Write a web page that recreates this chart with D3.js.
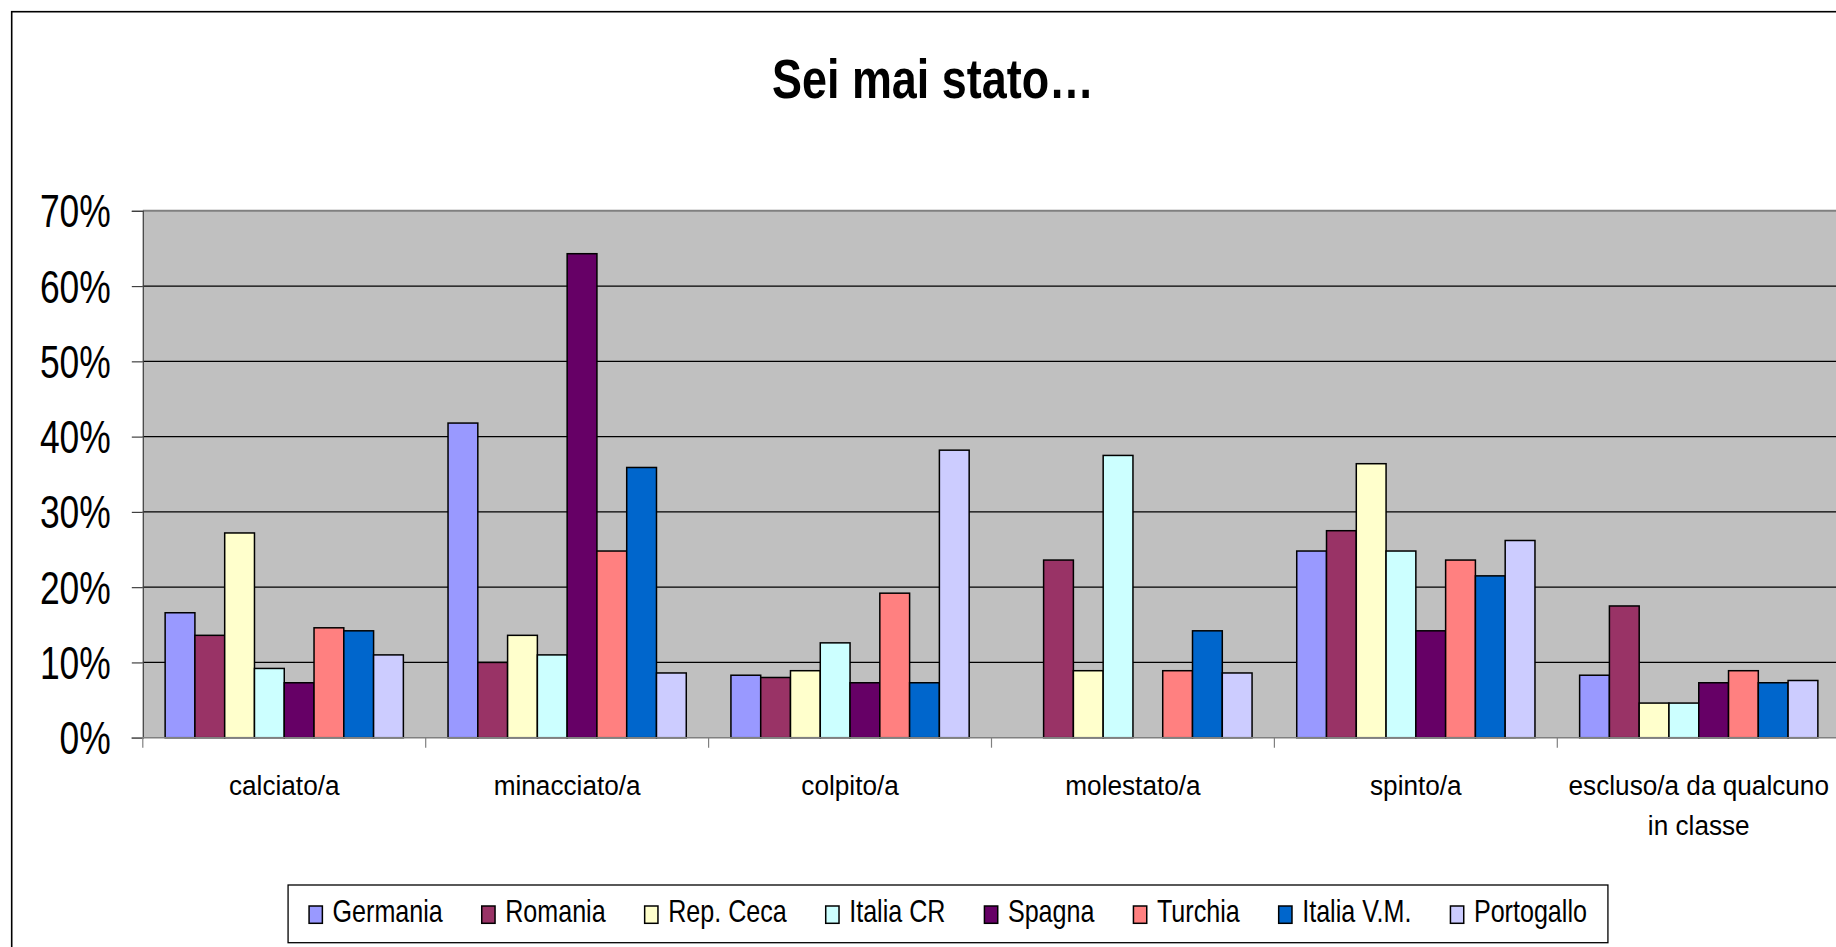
<!DOCTYPE html>
<html>
<head>
<meta charset="utf-8">
<script src="https://cdn.jsdelivr.net/npm/d3@7"></script>
<style>
  html, body { margin: 0; padding: 0; background: #fff; }
  svg { display: block; }
  text { font-family: "Liberation Sans", Arial, sans-serif; fill: #000; }
</style>
</head>
<body>
<svg id="chart" width="1836" height="947"></svg>
<script>
// ---- data ----
const title = "Sei mai stato…";
const categories = ["calciato/a", "minacciato/a", "colpito/a", "molestato/a", "spinto/a", "escluso/a da qualcuno in classe"];
const seriesNames = ["Germania", "Romania", "Rep. Ceca", "Italia CR", "Spagna", "Turchia", "Italia V.M.", "Portogallo"];
const seriesColors = ["#9999FF", "#993366", "#FFFFCC", "#CCFFFF", "#660066", "#FF8080", "#0066CC", "#CCCCFF"];
const germania   = [16.6, 41.8,  8.3, null, 24.8,  8.3];
const romania    = [13.6, 10.0,  8.0, 23.6, 27.5, 17.5];
const repCeca    = [27.2, 13.6,  8.9,  8.9, 36.4,  4.6];
const italiaCR   = [ 9.2, 11.0, 12.6, 37.5, 24.8,  4.6];
const spagna     = [ 7.3, 64.3,  7.3, null, 14.2,  7.3];
const turchia    = [14.6, 24.8, 19.2,  8.9, 23.6,  8.9];
const italiaVM   = [14.2, 35.9,  7.3, 14.2, 21.5,  7.3];
const portogallo = [11.0,  8.6, 38.2,  8.6, 26.2,  7.6];
const yTickValues = [0, 10, 20, 30, 40, 50, 60, 70];
const yTickLabels = ["0%", "10%", "20%", "30%", "40%", "50%", "60%", "70%"];

const seriesValues = [germania, romania, repCeca, italiaCR, spagna, turchia, italiaVM, portogallo];

// ---- layout ----
const svg = d3.select("#chart");
const plotLeft = 142.8, plotTop = 210.8, plotBottom = 737.7, catStep = 282.9;
const plotRight = plotLeft + catStep * categories.length;

// chart outer border
svg.append("rect").attr("x", 11.7).attr("y", 11.7).attr("width", 1900).attr("height", 1000)
  .attr("fill", "#fff").attr("stroke", "#000").attr("stroke-width", 1.6);

// title (condensed to the reference width)
const titleText = svg.append("text")
  .attr("text-anchor", "middle")
  .attr("font-size", 56).attr("font-weight", "bold")
  .text(title);
const titleScale = 322 / titleText.node().getComputedTextLength();
titleText.attr("transform", `translate(933,98) scale(${titleScale},1)`);

const x = d3.scaleBand().domain(categories).range([plotLeft, plotRight]).paddingInner(0).paddingOuter(0);
const xs = d3.scaleBand().domain(seriesNames).range([0, x.bandwidth()]).paddingInner(0).paddingOuter(0.75);
const y = d3.scaleLinear().domain([0, 70]).range([plotBottom, plotTop]);
const color = d3.scaleOrdinal().domain(seriesNames).range(seriesColors);

// plot background
svg.append("rect").attr("x", plotLeft).attr("y", y(70)).attr("width", plotRight - plotLeft)
  .attr("height", y(0) - y(70)).attr("fill", "#C0C0C0");

// gridlines
svg.append("g").selectAll("line").data(yTickValues.filter(v => v > 0 && v < 70)).join("line")
  .attr("x1", plotLeft).attr("x2", plotRight)
  .attr("y1", d => y(d)).attr("y2", d => y(d))
  .attr("stroke", "#000").attr("stroke-width", 1.2);
// top border of plot
svg.append("line").attr("x1", plotLeft).attr("x2", plotRight).attr("y1", y(70)).attr("y2", y(70))
  .attr("stroke", "#808080").attr("stroke-width", 2);

// bars
const groups = svg.append("g").selectAll("g").data(categories).join("g")
  .attr("transform", d => `translate(${x(d)},0)`);
groups.selectAll("rect")
  .data((c, ci) => seriesNames.map((s, si) => ({ s, v: seriesValues[si][ci] })).filter(d => d.v != null))
  .join("rect")
  .attr("x", d => xs(d.s)).attr("width", xs.bandwidth())
  .attr("y", d => y(d.v)).attr("height", d => y(0) - y(d.v))
  .attr("fill", d => color(d.s)).attr("stroke", "#000").attr("stroke-width", 1.5);

// y axis
const yAxis = svg.append("g").attr("transform", `translate(${plotLeft},0)`)
  .call(d3.axisLeft(y).tickValues(yTickValues).tickSize(11).tickFormat((d, i) => yTickLabels[i]));
yAxis.select(".domain").attr("stroke", "#404040").attr("stroke-width", 1.2);
yAxis.selectAll(".tick line").attr("stroke", "#404040").attr("stroke-width", 1.2);
yAxis.selectAll(".tick text")
  .attr("x", null).attr("dy", null)
  .attr("transform", "translate(-32,16) scale(0.77,1)")
  .attr("text-anchor", "end")
  .attr("font-family", "'Liberation Sans', Arial, sans-serif")
  .attr("font-size", 46).attr("fill", "#000");

// x axis line and boundary ticks
svg.append("line").attr("x1", plotLeft - 11).attr("x2", plotRight).attr("y1", y(0)).attr("y2", y(0))
  .attr("stroke", "#808080").attr("stroke-width", 1.6);
const bounds = categories.map(c => x(c)).concat([plotRight]);
svg.append("g").selectAll("line").data(bounds).join("line")
  .attr("x1", d => d).attr("x2", d => d).attr("y1", y(0)).attr("y2", y(0) + 10)
  .attr("stroke", "#808080").attr("stroke-width", 1.2);

// category labels (word-wrapped)
const catFont = 28, catScale = 0.935;
const measurer = svg.append("text").attr("font-size", catFont).attr("visibility", "hidden");
function widthOf(s) { measurer.text(s); return measurer.node().getComputedTextLength() * catScale; }
const maxW = x.bandwidth() * 0.95;
categories.forEach(c => {
  const words = c.split(" ");
  const lines = [];
  let cur = "";
  words.forEach(w => {
    const t = cur ? cur + " " + w : w;
    if (cur && widthOf(t) > maxW) { lines.push(cur); cur = w; } else cur = t;
  });
  lines.push(cur);
  lines.forEach((ln, li) => {
    svg.append("text")
      .attr("transform", `translate(${x(c) + x.bandwidth() / 2},${795 + li * 40}) scale(${catScale},1)`)
      .attr("text-anchor", "middle").attr("font-size", catFont)
      .text(ln);
  });
});
measurer.remove();

// legend
const legFont = 31, legScale = 0.81, swW = 13.3, swH = 17.3, txtOff = 23.5, itemGap = 39;
const legG = svg.append("g");
const legBox = legG.append("rect").attr("fill", "#fff").attr("stroke", "#000").attr("stroke-width", 1.3);
let cx = 0;
const items = [];
seriesNames.forEach(s => {
  const g = legG.append("g");
  g.append("rect").attr("x", cx).attr("y", 906).attr("width", swW).attr("height", swH)
    .attr("fill", color(s)).attr("stroke", "#000").attr("stroke-width", 1.5);
  const t = g.append("text").attr("font-size", legFont)
    .attr("transform", `translate(${cx + txtOff},921.7) scale(${legScale},1)`).text(s);
  const w = t.node().getComputedTextLength() * legScale;
  cx += txtOff + w + itemGap;
  items.push(g);
});
const totalW = cx - itemGap;
const legCenter = 948;
const shift = legCenter - totalW / 2;
items.forEach(g => g.attr("transform", `translate(${shift},0)`));
legBox.attr("x", shift - 21).attr("y", 885).attr("width", totalW + 42).attr("height", 57.7);
</script>
</body>
</html>
